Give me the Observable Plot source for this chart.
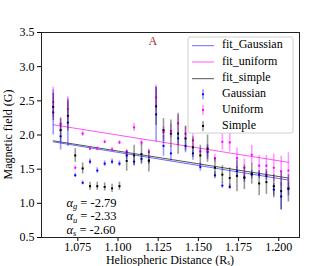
<!DOCTYPE html>
<html><head><meta charset="utf-8">
<script src="https://cdn.jsdelivr.net/npm/d3@7"></script>
<script src="https://cdn.jsdelivr.net/npm/@observablehq/plot@0.6"></script>
<style>
body{margin:0;background:#fff}
svg{font-family:"Liberation Serif",serif}
</style>
</head><body><div id="chart"></div>
<script>
const distance = [1.0597,1.0643,1.0688,1.0734,1.0780,1.0826,1.0871,1.0917,1.0963,1.1009,1.1054,1.1100,1.1146,1.1192,1.1237,1.1283,1.1329,1.1374,1.1420,1.1466,1.1512,1.1557,1.1603,1.1649,1.1695,1.1740,1.1786,1.1832,1.1878,1.1923,1.1969,1.2015,1.2060];
const gaussian    = [2.33,1.98,2.18,1.41,1.30,1.61,1.48,1.58,1.61,1.58,1.70,1.61,1.65,1.63,2.30,1.84,1.73,1.95,1.84,1.73,1.53,1.75,1.41,1.26,1.24,1.47,1.37,1.42,1.42,1.40,1.20,1.10,1.21];
const gaussianErr = [0.33,0.20,0.35,0.03,0.03,0.04,0.04,0.04,0.04,0.04,0.06,0.06,0.06,0.06,0.40,0.15,0.11,0.10,0.10,0.10,0.06,0.11,0.05,0.04,0.04,0.07,0.06,0.06,0.06,0.06,0.09,0.20,0.10];
const uniform     = [2.48,2.16,2.38,1.52,2.02,1.80,1.80,1.90,1.79,1.89,1.76,2.11,1.89,1.75,2.55,2.04,2.06,2.17,2.02,1.92,1.76,1.76,1.66,1.90,1.89,1.66,1.52,1.71,1.55,1.55,1.52,1.47,1.48];
const uniformErr  = [0.22,0.10,0.18,0.03,0.04,0.03,0.03,0.03,0.03,0.03,0.03,0.06,0.04,0.04,0.18,0.08,0.10,0.12,0.10,0.10,0.05,0.08,0.06,0.12,0.14,0.15,0.13,0.14,0.15,0.15,0.20,0.22,0.26];
const simple      = [2.41,2.07,2.28,1.70,1.51,1.25,1.25,1.24,1.22,1.25,1.62,1.70,1.72,1.62,2.42,2.07,2.02,2.02,1.95,1.82,1.70,1.80,1.52,1.42,1.37,1.40,1.38,1.43,1.29,1.31,1.25,1.18,1.22];
const simpleErr   = [0.20,0.17,0.22,0.10,0.08,0.06,0.06,0.06,0.06,0.06,0.15,0.15,0.15,0.16,0.28,0.17,0.20,0.30,0.18,0.15,0.15,0.20,0.14,0.13,0.15,0.23,0.18,0.15,0.18,0.18,0.17,0.27,0.20];

const fitX = [1.0597, 1.2060];
const fitGaussian = [1.90, 1.34];
const fitUniform  = [2.15, 1.60];
const fitSimple   = [1.915, 1.37];

const xTicks = [1.075, 1.100, 1.125, 1.150, 1.175, 1.200];
const yTicks = [0.5, 1.0, 1.5, 2.0, 2.5, 3.0, 3.5];

const alphaSubs = ["g", "u", "s"];
const alphaValues = ["-2.79", "-2.33", "-2.60"];

const seriesNames = ["Gaussian", "Uniform", "Simple"];
const fitNames = ["fit_Gaussian", "fit_uniform", "fit_simple"];

const colors = {Gaussian: "#0000ff", Uniform: "#ff00ff", Simple: "#000000"};

const pts = [];
seriesNames.forEach((s, k) => {
  const vals = [gaussian, uniform, simple][k];
  const errs = [gaussianErr, uniformErr, simpleErr][k];
  distance.forEach((d, i) => pts.push({series: s, x: d, y: vals[i], lo: vals[i] - errs[i], hi: vals[i] + errs[i]}));
});
const fits = [];
fitNames.forEach((f, k) => {
  const vals = [fitGaussian, fitUniform, fitSimple][k];
  fitX.forEach((x, i) => fits.push({fit: f, x, y: vals[i]}));
});
const fitColors = {fit_Gaussian: "#6a6aff", fit_uniform: "#ff55ff", fit_simple: "#555555"};

const marks = [
  Plot.axisX({ticks: xTicks, tickFormat: d3.format(".3f"), label: null, tickSize: 4, tickPadding: 1, fontSize: 12}),
  Plot.axisY({ticks: yTicks, tickFormat: d3.format(".1f"), label: null, tickSize: 4, tickPadding: 3, fontSize: 12}),
  Plot.line(fits.filter(d => d.fit === "fit_Gaussian"), {x: "x", y: "y", stroke: fitColors.fit_Gaussian, strokeWidth: 1}),
  Plot.line(fits.filter(d => d.fit === "fit_uniform"), {x: "x", y: "y", stroke: fitColors.fit_uniform, strokeWidth: 1}),
  Plot.line(fits.filter(d => d.fit === "fit_simple"), {x: "x", y: "y", stroke: fitColors.fit_simple, strokeWidth: 1}),
];
seriesNames.forEach(s => {
  const data = pts.filter(d => d.series === s);
  marks.push(Plot.ruleX(data, {x: "x", y1: "lo", y2: "hi", stroke: colors[s], strokeOpacity: 0.4, strokeWidth: 1.6}));
  marks.push(Plot.dot(data, {x: "x", y: "y", r: 1.15, fill: colors[s], stroke: "none"}));
});
marks.push(Plot.frame({stroke: "#222", strokeWidth: 1}));

const plot = Plot.plot({
  width: 332, height: 266,
  marginLeft: 41, marginRight: 33, marginTop: 32, marginBottom: 29,
  style: {fontFamily: "Liberation Serif, serif", fontSize: "12px", color: "black", background: "white"},
  x: {domain: [1.0524, 1.2129]},
  y: {domain: [0.5, 3.5]},
  marks
});
document.getElementById("chart").appendChild(plot);

const svg = d3.select(plot);
const xs = plot.scale("x"), ys = plot.scale("y");

// axis labels
svg.append("text").attr("transform", "translate(9,134.5) rotate(-90)").attr("text-anchor", "middle")
  .attr("dominant-baseline", "middle").style("font-size", "12px").attr("fill", "black").text("Magnetic field (G)");
const xl = svg.append("text").attr("x", 170).attr("y", 263.5).attr("text-anchor", "middle").style("font-size", "12px").attr("fill", "black");
xl.append("tspan").text("Heliospheric Distance (R");
xl.append("tspan").style("font-size", "7.5px").attr("dy", 1.5).text("s");
xl.append("tspan").attr("dy", -1.5).text(")");

// panel letter
svg.append("text").attr("x", xs.apply(1.1220)).attr("y", ys.apply(3.354)).attr("text-anchor", "middle")
  .attr("dominant-baseline", "middle").style("font-size", "12px").attr("fill", "#a52a2a").text("A");

// alpha annotations
const alphaY = [0.94, 0.745, 0.55];
alphaSubs.forEach((s, i) => {
  const t = svg.append("text").attr("x", xs.apply(1.0682)).attr("y", ys.apply(alphaY[i]))
    .attr("text-anchor", "start").style("font-size", "12.5px").attr("fill", "black");
  t.append("tspan").attr("font-style", "italic").text("α");
  t.append("tspan").attr("font-style", "italic").style("font-size", "8.5px").attr("dy", 2.5).text(s);
  t.append("tspan").attr("dy", -2.5).text(" = " + alphaValues[i]);
});

// legend
const lg = svg.append("g").attr("text-anchor", "start");
lg.append("rect").attr("x", 188).attr("y", 37).attr("width", 105).attr("height", 96).attr("rx", 2)
  .attr("fill", "white").attr("fill-opacity", 0.85).attr("stroke", "#d0d0d0").attr("stroke-width", 1);
const rowY = [45.7, 62, 78.7, 94.3, 110, 126];
fitNames.forEach((f, i) => {
  lg.append("line").attr("x1", 192).attr("x2", 214).attr("y1", rowY[i]).attr("y2", rowY[i])
    .attr("stroke", fitColors[f]).attr("stroke-width", 1);
  lg.append("text").attr("x", 222).attr("y", rowY[i]).attr("dominant-baseline", "middle")
    .style("font-size", "12px").attr("fill", "black").text(f);
});
seriesNames.forEach((s, i) => {
  const y = rowY[i + 3];
  lg.append("line").attr("x1", 203).attr("x2", 203).attr("y1", y - 5).attr("y2", y + 5)
    .attr("stroke", colors[s]).attr("stroke-opacity", 0.4).attr("stroke-width", 1.6);
  lg.append("circle").attr("cx", 203).attr("cy", y).attr("r", 1.15).attr("fill", colors[s]);
  lg.append("text").attr("x", 222).attr("y", y).attr("dominant-baseline", "middle")
    .style("font-size", "12px").attr("fill", "black").text(s);
});
</script>
</body></html>
